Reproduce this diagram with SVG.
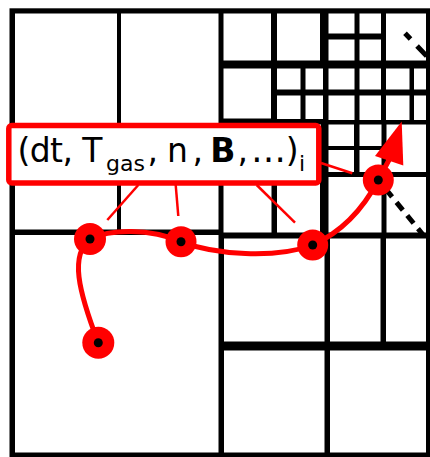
<svg xmlns="http://www.w3.org/2000/svg" width="430" height="457" viewBox="0 0 430 457">
<style>
.cell{fill:#fff}
.traj{fill:none;stroke:#f00;stroke-width:5;stroke-linecap:round}
.lead{fill:none;stroke:#f00;stroke-width:2.5}
.dash{fill:none;stroke:#000;stroke-width:5}
.pt{fill:#f00}
.dot{fill:#000}
.lbl{font-family:"DejaVu Sans","Liberation Sans",sans-serif;fill:#000}
</style>
<rect width="430" height="457" fill="#fff"/>
<g id="grid">
<rect x="9.5" y="8.3" width="420.5" height="448.7" fill="#000"/>
<rect class="cell" x="15" y="13.5" width="102" height="216"/>
<rect class="cell" x="121" y="13.5" width="97.5" height="216"/>
<rect class="cell" x="15" y="235" width="203.5" height="217.5"/>
<rect class="cell" x="223.5" y="13.5" width="47.5" height="47"/>
<rect class="cell" x="277" y="13.5" width="43" height="47"/>
<rect class="cell" x="328.5" y="13.5" width="26" height="20"/>
<rect class="cell" x="328.5" y="39.5" width="26" height="21"/>
<rect class="cell" x="359.5" y="13.5" width="21.5" height="20"/>
<rect class="cell" x="359.5" y="39.5" width="21.5" height="21"/>
<rect class="cell" x="386" y="13.5" width="40" height="47"/>
<rect class="cell" x="223.5" y="68.5" width="47.5" height="50"/>
<rect class="cell" x="277" y="68.5" width="23.5" height="21"/>
<rect class="cell" x="305.5" y="68.5" width="17.5" height="21"/>
<rect class="cell" x="328.5" y="68.5" width="26" height="21"/>
<rect class="cell" x="359.5" y="68.5" width="21.5" height="21"/>
<rect class="cell" x="386" y="68.5" width="23.5" height="21"/>
<rect class="cell" x="414" y="68.5" width="12" height="21"/>
<rect class="cell" x="277" y="95.5" width="23.5" height="23.5"/>
<rect class="cell" x="305.5" y="95.5" width="17.5" height="23.5"/>
<rect class="cell" x="328.5" y="95.5" width="26" height="24.5"/>
<rect class="cell" x="359.5" y="95.5" width="21.5" height="24.5"/>
<rect class="cell" x="386" y="95.5" width="23.5" height="24.5"/>
<rect class="cell" x="414" y="95.5" width="12" height="24.5"/>
<rect class="cell" x="223.5" y="124.5" width="47.5" height="47.5"/>
<rect class="cell" x="277" y="124.5" width="44" height="47.5"/>
<rect class="cell" x="328.5" y="124.5" width="25.5" height="21.5"/>
<rect class="cell" x="328.5" y="150" width="25.5" height="22"/>
<rect class="cell" x="359.5" y="124.5" width="22" height="21.5"/>
<rect class="cell" x="359.5" y="150" width="22" height="22"/>
<rect class="cell" x="386.5" y="124.5" width="39.5" height="47.5"/>
<rect class="cell" x="223.5" y="177" width="48" height="55.5"/>
<rect class="cell" x="277" y="177" width="43" height="55.5"/>
<rect class="cell" x="328.5" y="177" width="53" height="55.5"/>
<rect class="cell" x="386.5" y="177" width="39.5" height="55.5"/>
<rect class="cell" x="224" y="238.5" width="100.5" height="103"/>
<rect class="cell" x="330" y="238.5" width="50.5" height="103"/>
<rect class="cell" x="386" y="238.5" width="40" height="103"/>
<rect class="cell" x="224" y="350.5" width="100.5" height="102"/>
<rect class="cell" x="330" y="350.5" width="96" height="102"/>
</g>
<g id="connectors">
<line class="dash" x1="405" y1="33.3" x2="429" y2="58.5" stroke-dasharray="8 9.5 14 10"/>
<line class="dash" x1="378.3" y1="180" x2="424" y2="236" stroke-dasharray="10 7" stroke-dashoffset="5.2"/>
<path class="traj" d="M98.3,342.7 C78,290 70,255 90,239 C110,229 150,228 181,241.7 C215,255 275,259 312.7,245 C335,235 360,215 378.3,180 L389,160"/>
<polygon fill="#f00" points="401.7,121.5 375,156 403.3,165.5"/>
<line class="lead" x1="138.3" y1="185" x2="107.3" y2="220"/>
<line class="lead" x1="175.7" y1="185" x2="178.3" y2="216"/>
<line class="lead" x1="256.7" y1="185" x2="295" y2="222.7"/>
<line class="lead" x1="321" y1="163" x2="352.3" y2="173.3"/>
</g>
<g id="p1"><circle class="pt" cx="98.3" cy="342.7" r="16"/><circle class="dot" cx="98.3" cy="342.7" r="4.5"/></g>
<g id="p2"><circle class="pt" cx="90" cy="239" r="16"/><circle class="dot" cx="90" cy="239" r="4.5"/></g>
<g id="p3"><circle class="pt" cx="181" cy="241.7" r="15.5"/><circle class="dot" cx="181" cy="241.7" r="4.5"/></g>
<g id="p4"><circle class="pt" cx="312.7" cy="245" r="15.5"/><circle class="dot" cx="312.7" cy="245" r="4.5"/></g>
<g id="p5"><circle class="pt" cx="378.3" cy="180" r="15.5"/><circle class="dot" cx="378.3" cy="180" r="4.5"/></g>
<g id="label">
<rect x="8.8" y="125.5" width="310" height="57.5" rx="3" fill="#fff" stroke="#f00" stroke-width="5.5"/>
<text class="lbl" y="161.5" font-size="33"><tspan x="17.5" letter-spacing="-0.6">(dt, T</tspan><tspan x="106" y="170.5" font-size="22">gas</tspan><tspan x="147.4" y="161.5">,</tspan><tspan x="167">n</tspan><tspan x="192.5">,</tspan><tspan x="210.3" font-weight="bold">B</tspan><tspan x="237.4">,</tspan><tspan x="251" font-size="35">…</tspan><tspan x="285.7">)</tspan><tspan x="299" y="170.5" font-size="22">i</tspan></text>
</g>
</svg>
